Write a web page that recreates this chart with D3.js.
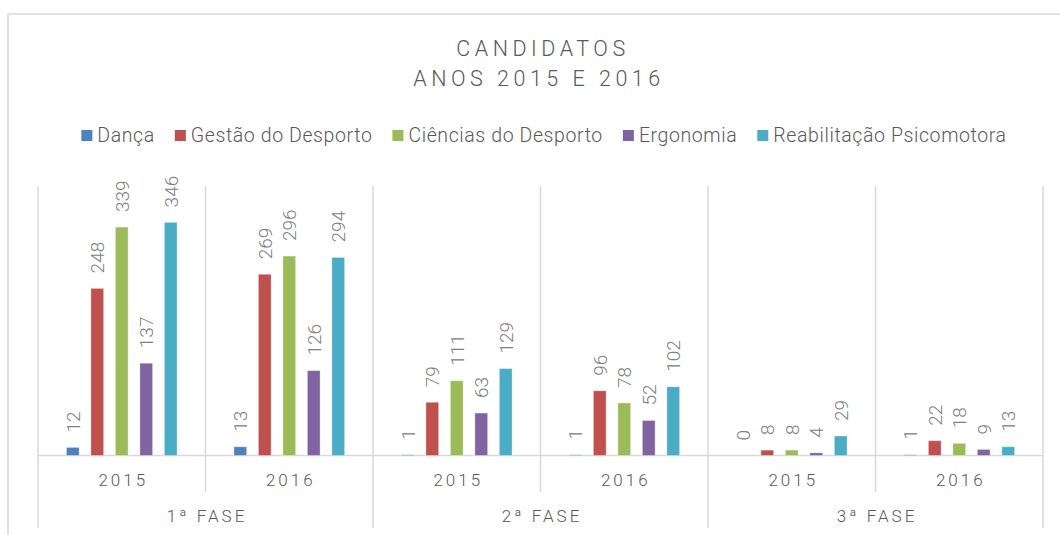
<!DOCTYPE html>
<html>
<head>
<meta charset="utf-8">
<script src="https://cdn.jsdelivr.net/npm/d3@7"></script>
<style>
  body { margin: 0; background: #fff; }
  svg { display: block; font-family: Roboto, "Open Sans", sans-serif; font-weight: 300; }
</style>
</head>
<body>
<div id="chart"></div>
<script>
const WIDTH = 1060;
const HEIGHT = 535;

// data
const phases = ["1ª FASE", "2ª FASE", "3ª FASE"];
const years = ["2015", "2016"];
const seriesNames = ["Dança", "Gestão do Desporto", "Ciências do Desporto", "Ergonomia", "Reabilitação Psicomotora"];
// order: 1ª 2015, 1ª 2016, 2ª 2015, 2ª 2016, 3ª 2015, 3ª 2016
const danca     = [12, 13, 1, 1, 0, 1];
const gestao    = [248, 269, 79, 96, 8, 22];
const ciencias  = [339, 296, 111, 78, 8, 18];
const ergonomia = [137, 126, 63, 52, 4, 9];
const reab      = [346, 294, 129, 102, 29, 13];
const colors = ["#4f81bd", "#c0504d", "#9bbb59", "#8064a2", "#4bacc6"];

const seriesValues = [danca, gestao, ciencias, ergonomia, reab];
const categories = [];
phases.forEach(p => years.forEach(y => categories.push(p + "|" + y)));

const rows = categories.map((c, i) => ({
    key: c,
    phase: c.split("|")[0],
    year: c.split("|")[1],
    values: seriesNames.map((s, j) => ({ name: s, value: seriesValues[j][i] }))
}));

const plot = { left: 38, right: 1043, top: 186, bottom: 455.5 };
const gridColor = "#d9d9d9";

const svg = d3.select("#chart").append("svg")
    .attr("width", WIDTH)
    .attr("height", HEIGHT);

// chart frame (runs off the right/bottom edge like the cropped screenshot)
svg.append("rect")
    .attr("x", 8).attr("y", 14)
    .attr("width", WIDTH + 20).attr("height", HEIGHT + 20)
    .attr("fill", "none")
    .attr("stroke", gridColor)
    .attr("stroke-width", 1.5);

const x0 = d3.scaleBand().domain(categories).range([plot.left, plot.right]);
const xPhase = d3.scaleBand().domain(phases).range([plot.left, plot.right]);
const x1 = d3.scaleBand().domain(seriesNames)
    .range([0, x0.bandwidth()])
    .paddingInner(0.48)
    .paddingOuter(1.16);
const y = d3.scaleLinear().domain([0, 400]).range([plot.bottom, plot.top]);

// separators
const lines = svg.append("g").attr("stroke", gridColor).attr("stroke-width", 1.5);
phases.forEach((p, i) => {
    lines.append("line")
        .attr("x1", xPhase(p)).attr("x2", xPhase(p))
        .attr("y1", plot.top).attr("y2", 528);
    if (i === phases.length - 1) {
        lines.append("line")
            .attr("x1", xPhase(p) + xPhase.bandwidth()).attr("x2", xPhase(p) + xPhase.bandwidth())
            .attr("y1", plot.top).attr("y2", 528);
    }
});
rows.filter(r => r.year !== years[0]).forEach(r => {
    lines.append("line")
        .attr("x1", x0(r.key)).attr("x2", x0(r.key))
        .attr("y1", plot.top).attr("y2", 492);
});

// bars
const groups = svg.append("g").selectAll("g")
    .data(rows)
    .join("g")
    .attr("transform", d => `translate(${x0(d.key)},0)`);

groups.selectAll("rect")
    .data(d => d.values)
    .join("rect")
    .attr("x", d => x1(d.name))
    .attr("y", d => y(d.value))
    .attr("width", x1.bandwidth())
    .attr("height", d => y(0) - y(d.value))
    .attr("fill", (d, i) => colors[i])
    .attr("stroke", "#fff")
    .attr("stroke-opacity", 0.35)
    .attr("stroke-width", 1);

// rotated data labels
groups.selectAll("text")
    .data(d => d.values)
    .join("text")
    .attr("transform", d => `translate(${x1(d.name) + x1.bandwidth() / 2}, ${y(d.value) - 15}) rotate(-90)`)
    .attr("dy", "0.36em")
    .attr("fill", "#808080")
    .style("font-size", "19px")
    .text(d => d.value);

// baseline axis
lines.append("line")
    .attr("x1", plot.left).attr("x2", plot.right)
    .attr("y1", plot.bottom).attr("y2", plot.bottom);

// year labels
svg.append("g").selectAll("text")
    .data(rows)
    .join("text")
    .attr("x", d => x0(d.key) + x0.bandwidth() / 2 + 1.5)
    .attr("y", 485.5)
    .attr("text-anchor", "middle")
    .attr("fill", "#595959")
    .style("font-size", "17px")
    .style("letter-spacing", "3px")
    .text(d => d.year);

// phase labels
svg.append("g").selectAll("text")
    .data(phases)
    .join("text")
    .attr("x", d => xPhase(d) + xPhase.bandwidth() / 2 + 1.5)
    .attr("y", 521.5)
    .attr("text-anchor", "middle")
    .attr("fill", "#595959")
    .style("font-size", "17px")
    .style("letter-spacing", "3px")
    .text(d => d);

// title
const title = svg.append("text")
    .attr("text-anchor", "middle")
    .attr("fill", "#595959")
    .style("font-size", "21.5px")
    .style("letter-spacing", "4.5px");
title.append("tspan").attr("x", 543).attr("y", 56).text("CANDIDATOS");
title.append("tspan").attr("x", 539).attr("y", 86).text("ANOS 2015 E 2016");

// legend
const legend = svg.append("g").attr("class", "legend");
let lx = 0;
seriesNames.forEach((s, i) => {
    const item = legend.append("g").attr("transform", `translate(${lx},0)`);
    item.append("rect")
        .attr("x", 0).attr("y", -11.5)
        .attr("width", 11).attr("height", 11)
        .attr("fill", colors[i]);
    const t = item.append("text")
        .attr("x", 16).attr("y", 0)
        .attr("fill", "#595959")
        .style("font-size", "19.5px")
        .style("letter-spacing", "0.6px")
        .text(s);
    lx += 16 + t.node().getComputedTextLength() + 20;
});
lx -= 20;
legend.attr("transform", `translate(${544 - lx / 2}, 141.5)`);
</script>
</body>
</html>
